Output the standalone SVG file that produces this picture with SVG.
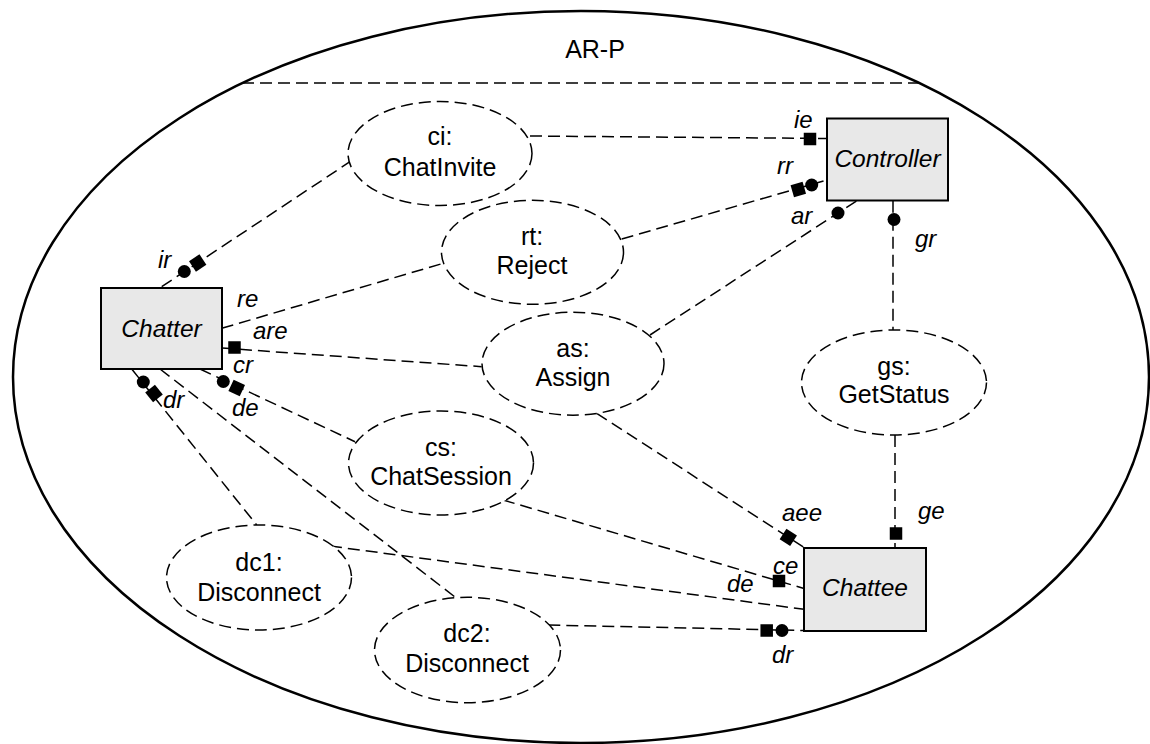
<svg xmlns="http://www.w3.org/2000/svg" width="1150" height="744" viewBox="0 0 1150 744">
  <style>
    .frame { fill: none; stroke: #000; stroke-width: 2.5; }
    .dash { fill: none; stroke: #000; stroke-width: 1.5; stroke-dasharray: 12 6; }
    .box { fill: #e8e8e8; stroke: #000; stroke-width: 2; }
    .act { fill: #fff; stroke: #000; stroke-width: 1.5; stroke-dasharray: 12 6; }
    text { font-family: "Liberation Sans", Arial, Helvetica, sans-serif; font-size: 25px; fill: #000; }
    .mid { text-anchor: middle; }
    .it { font-style: italic; font-size: 24px; }
    .nm { font-style: italic; font-size: 24.5px; text-anchor: middle; }
  </style>
  <defs>
    <!-- role end markers: filled circle = required, filled square = provided -->
    <circle id="req" r="6.5" fill="#000"/>
    <rect id="prov" x="-6.25" y="-6.25" width="12.5" height="12.5" fill="#000"/>
  </defs>

  <rect width="1150" height="744" fill="#fff"/>

  <!-- protocol boundary -->
  <g id="protocol">
    <ellipse class="frame" cx="581" cy="377" rx="568" ry="366"/>
    <line class="dash" x1="242" y1="83" x2="920" y2="83"/>
    <text class="mid" x="595" y="58">AR-P</text>
  </g>

  <!-- connectors -->
  <g id="connectors">
    <line class="dash" x1="161.7" y1="286.7" x2="350" y2="161.7"/>
    <line class="dash" x1="530" y1="136" x2="827" y2="138.5"/>
    <line class="dash" x1="221.7" y1="328.3" x2="443.3" y2="263.3"/>
    <line class="dash" x1="621.7" y1="239" x2="827" y2="180"/>
    <line class="dash" x1="650" y1="335" x2="857" y2="200.7"/>
    <line class="dash" x1="222" y1="348" x2="481.7" y2="366.7"/>
    <line class="dash" x1="893" y1="200.7" x2="893" y2="330"/>
    <line class="dash" x1="895" y1="435" x2="895" y2="548"/>
    <line class="dash" x1="596.7" y1="413.3" x2="804.3" y2="547.7"/>
    <line class="dash" x1="503" y1="500" x2="804" y2="588.5"/>
    <line class="dash" x1="330" y1="546" x2="804" y2="609.3"/>
    <line class="dash" x1="548.3" y1="625" x2="804" y2="630.5"/>
    <line class="dash" x1="131.7" y1="369" x2="256.7" y2="525"/>
    <line class="dash" x1="160" y1="369" x2="455" y2="597"/>
    <line class="dash" x1="200" y1="369" x2="355" y2="441.7"/>

    <!-- role markers -->
    <use href="#req" x="184.3" y="271.5"/>
    <use href="#prov" transform="translate(197.7 263) rotate(-33.6)"/>
    <use href="#prov" transform="translate(810 139)"/>
    <use href="#prov" transform="translate(798.3 189.5) rotate(-16)"/>
    <use href="#req" x="811.7" y="185"/>
    <use href="#req" x="838" y="213"/>
    <use href="#prov" transform="translate(234.5 347.5)"/>
    <use href="#req" x="894" y="219.5"/>
    <use href="#prov" transform="translate(896 533.5)"/>
    <use href="#prov" transform="translate(788.3 537.3) rotate(32.9)"/>
    <use href="#prov" transform="translate(779 581)"/>
    <use href="#prov" transform="translate(766.7 630.5)"/>
    <use href="#req" x="782" y="630.5"/>
    <use href="#req" x="143.3" y="382"/>
    <use href="#prov" transform="translate(154 393.5) rotate(51)"/>
    <use href="#req" x="223.3" y="381.5"/>
    <use href="#prov" transform="translate(236.7 388) rotate(25)"/>

    <!-- role labels -->
    <text class="it" x="158" y="268">ir</text>
    <text class="it" x="794" y="128">ie</text>
    <text class="it" x="777" y="174">rr</text>
    <text class="it" x="791" y="224">ar</text>
    <text class="it" x="915" y="247">gr</text>
    <text class="it" x="237" y="307">re</text>
    <text class="it" x="253" y="339">are</text>
    <text class="it" x="233" y="373">cr</text>
    <text class="it" x="232" y="416">de</text>
    <text class="it" x="163" y="408">dr</text>
    <text class="it" x="782" y="521">aee</text>
    <text class="it" x="918" y="519">ge</text>
    <text class="it" x="773" y="574">ce</text>
    <text class="it" x="727" y="592">de</text>
    <text class="it" x="772" y="663">dr</text>
  </g>

  <!-- components -->
  <g id="chatter">
    <rect class="box" x="101" y="288" width="121" height="81"/>
    <text class="nm" x="161.5" y="337">Chatter</text>
  </g>
  <g id="controller">
    <rect class="box" x="827" y="118.5" width="121" height="82"/>
    <text class="nm" x="887.5" y="167">Controller</text>
  </g>
  <g id="chattee">
    <rect class="box" x="804" y="548" width="122" height="83"/>
    <text class="nm" x="865" y="596">Chattee</text>
  </g>

  <!-- interactions -->
  <g id="ci">
    <ellipse class="act" cx="440" cy="153.5" rx="92" ry="52"/>
    <text class="mid" x="440" y="145">ci:</text>
    <text class="mid" x="440" y="176">ChatInvite</text>
  </g>
  <g id="rt">
    <ellipse class="act" cx="532.5" cy="252.3" rx="91" ry="52"/>
    <text class="mid" x="532" y="245">rt:</text>
    <text class="mid" x="532" y="274">Reject</text>
  </g>
  <g id="as">
    <ellipse class="act" cx="573" cy="363.7" rx="91" ry="51.5"/>
    <text class="mid" x="573" y="357">as:</text>
    <text class="mid" x="573" y="386">Assign</text>
  </g>
  <g id="cs">
    <ellipse class="act" cx="441" cy="463" rx="92.5" ry="52"/>
    <text class="mid" x="441" y="456">cs:</text>
    <text class="mid" x="441" y="485">ChatSession</text>
  </g>
  <g id="gs">
    <ellipse class="act" cx="894" cy="382.5" rx="92.5" ry="52.5"/>
    <text class="mid" x="894" y="375">gs:</text>
    <text class="mid" x="894" y="403">GetStatus</text>
  </g>
  <g id="dc1">
    <ellipse class="act" cx="259" cy="577.5" rx="92.5" ry="52.5"/>
    <text class="mid" x="259" y="571">dc1:</text>
    <text class="mid" x="259" y="601">Disconnect</text>
  </g>
  <g id="dc2">
    <ellipse class="act" cx="467.5" cy="650" rx="93" ry="52.7"/>
    <text class="mid" x="467" y="642">dc2:</text>
    <text class="mid" x="467" y="672">Disconnect</text>
  </g>
</svg>
